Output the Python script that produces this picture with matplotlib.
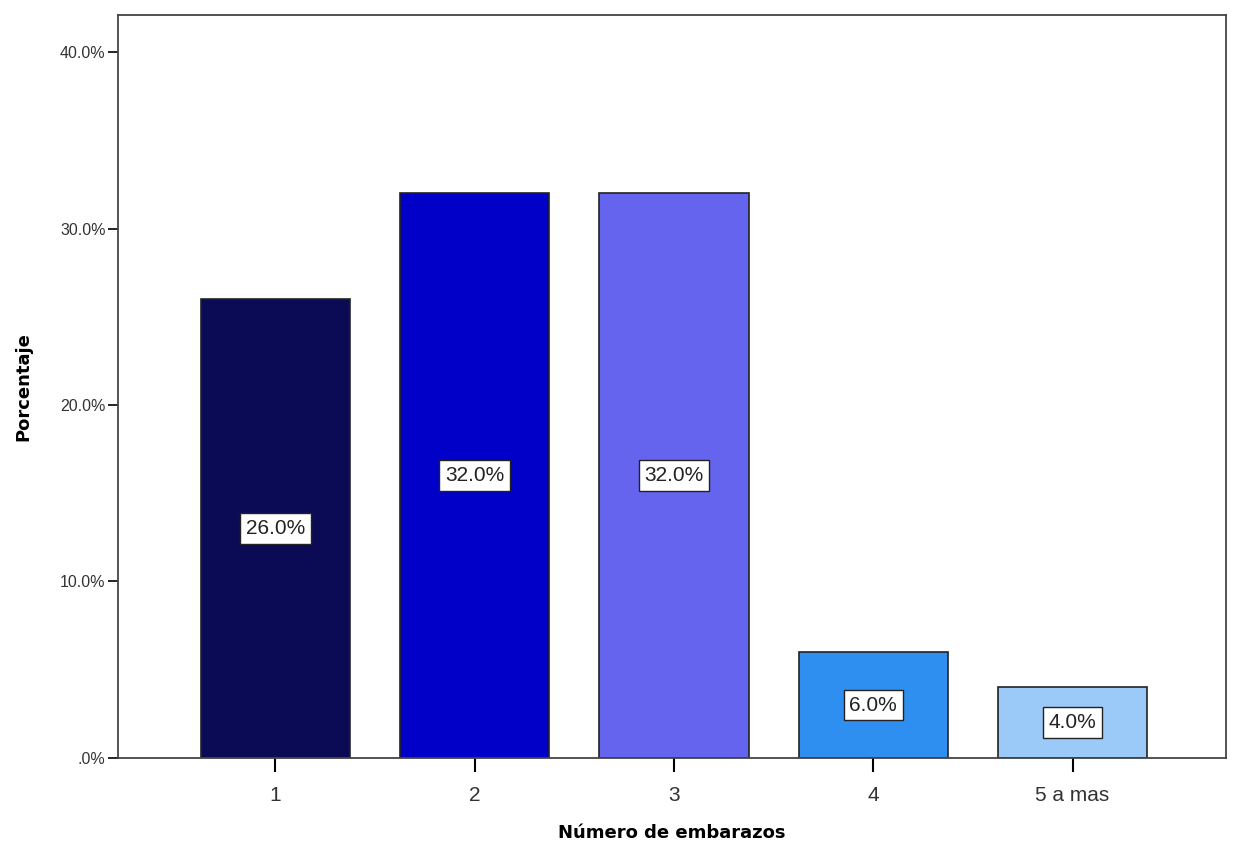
import numpy as np
import matplotlib.pyplot as plt

categories = ['1', '2', '3', '4', '5 a mas']
percentages = [26.0, 32.0, 32.0, 6.0, 4.0]
bar_colors = ['#0b0b55', '#0000c8', '#6464ee', '#2f8ff0', '#9ccaf8']
ytick_values = [0, 10, 20, 30, 40]
ytick_labels = ['.0%', '10.0%', '20.0%', '30.0%', '40.0%']

fig = plt.figure(figsize=(12.41, 8.47), dpi=100)
ax = fig.add_axes([0.0951, 0.1051, 0.8928, 0.8772])

x = np.arange(1, len(categories) + 1)
ax.bar(x, percentages, width=0.75, color=bar_colors, edgecolor='#222222', linewidth=1.2, zorder=2)

for xi, val in zip(x, percentages):
    ax.text(xi, val / 2, '{0:.1f}%'.format(val), ha='center', va='center', fontsize=15,
            family='Liberation Sans', color='#222222', zorder=3,
            bbox=dict(boxstyle='square,pad=0.28', facecolor='white', edgecolor='#222222', linewidth=1))

ax.set_xlim(0.21, 5.77)
ax.set_ylim(0, 42.1)
ax.set_xticks(x)
ax.set_xticklabels(categories, fontsize=15, color='#333333', family='Liberation Sans')
ax.set_yticks(ytick_values)
ax.set_yticklabels(ytick_labels, fontsize=11.5, color='#333333', family='Liberation Sans')
ax.tick_params(axis='y', direction='out', length=7, width=1.2, pad=2)
ax.tick_params(axis='x', direction='out', length=10, width=1.5, pad=10)

for s in ax.spines.values():
    s.set_color('#444444')
    s.set_linewidth(1.3)

ax.set_xlabel('Número de embarazos', fontsize=13, fontweight='bold', labelpad=14)
ax.set_ylabel('Porcentaje', fontsize=13, fontweight='bold', labelpad=20)

fig.savefig('out.png', dpi=100)
